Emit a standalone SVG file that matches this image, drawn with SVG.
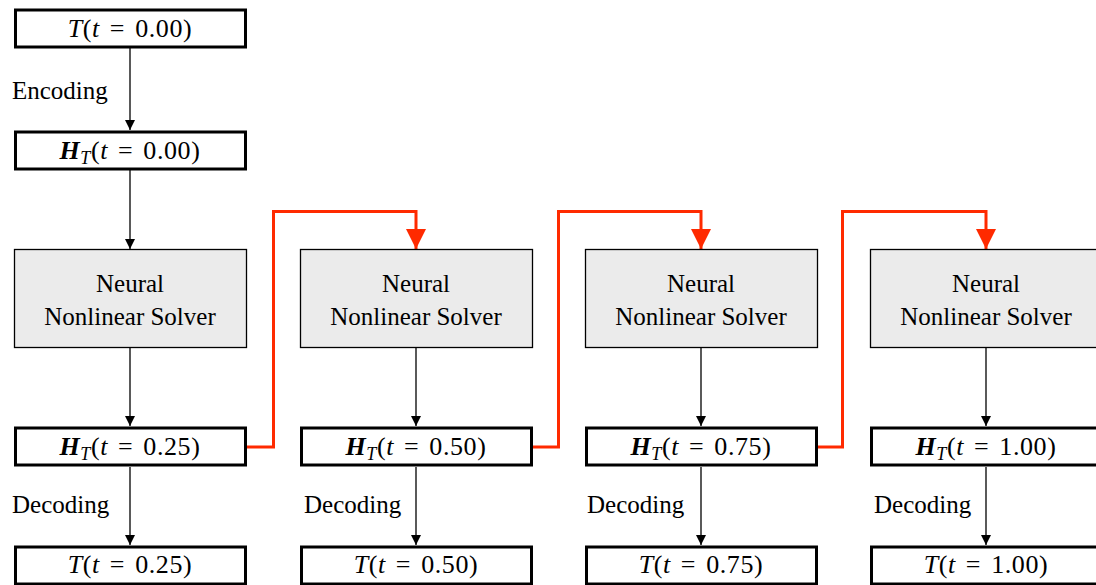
<svg xmlns="http://www.w3.org/2000/svg" width="1096" height="585" viewBox="0 0 1096 585">
<style>
.box{fill:#fff;stroke:#000;stroke-width:3}
.solver{fill:#ebebeb;stroke:#000;stroke-width:1.3}
.t{font-family:"Liberation Serif","Times New Roman",serif;font-size:25px;fill:#000;text-anchor:middle}
.m{font-family:"Liberation Serif","Times New Roman",serif;font-size:26px;fill:#000;text-anchor:middle;letter-spacing:0.6px}
.lbl{font-family:"Liberation Serif","Times New Roman",serif;font-size:25px;fill:#000}
.i{font-style:italic}
.b{font-style:italic;font-weight:bold}
.sub{font-style:italic;font-size:18px}
.a{stroke:#000;stroke-width:1.3;fill:none;marker-end:url(#ah)}
.r{stroke:#ff2a00;stroke-width:3;fill:none;marker-end:url(#rh)}
</style>
<defs>
<marker id="ah" markerUnits="userSpaceOnUse" markerWidth="10" markerHeight="12" refX="10" refY="5" orient="auto" viewBox="0 0 10 10">
<path d="M0,0 L10,5 L0,10 Z" fill="#000"/>
</marker>
<marker id="rh" markerUnits="userSpaceOnUse" markerWidth="20" markerHeight="20" refX="20" refY="10" orient="auto" viewBox="0 0 20 20">
<path d="M0,0 L20,10 L0,20 Z" fill="#ff2a00"/>
</marker>
</defs>
<g id="connectors">
<line class="a" x1="130" y1="48" x2="130" y2="130"/>
<line class="a" x1="130" y1="170" x2="130" y2="249"/>
<line class="a" x1="130" y1="347" x2="130" y2="426"/>
<line class="a" x1="130" y1="467" x2="130" y2="545"/>
<line class="a" x1="416" y1="347" x2="416" y2="426"/>
<line class="a" x1="416" y1="467" x2="416" y2="545"/>
<line class="a" x1="701" y1="347" x2="701" y2="426"/>
<line class="a" x1="701" y1="467" x2="701" y2="545"/>
<line class="a" x1="986" y1="347" x2="986" y2="426"/>
<line class="a" x1="986" y1="467" x2="986" y2="545"/>
<path class="r" d="M247,447 H273.5 V211.5 H416 V249"/>
<path class="r" d="M532,447 H558.5 V211.5 H701 V249"/>
<path class="r" d="M817,447 H842.5 V211.5 H986 V249"/>
<text class="lbl" x="12" y="99">Encoding</text>
<text class="lbl" x="12" y="513">Decoding</text>
<text class="lbl" x="304" y="513">Decoding</text>
<text class="lbl" x="587" y="513">Decoding</text>
<text class="lbl" x="874" y="513">Decoding</text>
</g>
<g id="T0"><rect class="box" x="15.5" y="10" width="230" height="37"/>
<text class="m" x="130" y="37"><tspan class="i">T</tspan>(<tspan class="i">t</tspan><tspan dx="10">=</tspan><tspan dx="10">0.00)</tspan></text></g>
<g id="H0"><rect class="box" x="15.5" y="132" width="230" height="37"/>
<text class="m" x="130" y="159"><tspan class="b">H</tspan><tspan class="sub" dy="5">T</tspan><tspan dy="-5">(</tspan><tspan class="i">t</tspan><tspan dx="10">=</tspan><tspan dx="10">0.00)</tspan></text></g>
<g id="S1"><rect class="solver" x="14.5" y="249.5" width="232" height="98"/>
<text class="t" x="130" y="292">Neural</text><text class="t" x="130" y="325">Nonlinear Solver</text></g>
<g id="H1"><rect class="box" x="15.5" y="428" width="230" height="37"/>
<text class="m" x="130" y="455"><tspan class="b">H</tspan><tspan class="sub" dy="5">T</tspan><tspan dy="-5">(</tspan><tspan class="i">t</tspan><tspan dx="10">=</tspan><tspan dx="10">0.25)</tspan></text></g>
<g id="T1"><rect class="box" x="15.5" y="547" width="230" height="37"/>
<text class="m" x="130" y="573"><tspan class="i">T</tspan>(<tspan class="i">t</tspan><tspan dx="10">=</tspan><tspan dx="10">0.25)</tspan></text></g>
<g id="S2"><rect class="solver" x="300.5" y="249.5" width="232" height="98"/>
<text class="t" x="416" y="292">Neural</text><text class="t" x="416" y="325">Nonlinear Solver</text></g>
<g id="H2"><rect class="box" x="301.5" y="428" width="230" height="37"/>
<text class="m" x="416" y="455"><tspan class="b">H</tspan><tspan class="sub" dy="5">T</tspan><tspan dy="-5">(</tspan><tspan class="i">t</tspan><tspan dx="10">=</tspan><tspan dx="10">0.50)</tspan></text></g>
<g id="T2"><rect class="box" x="301.5" y="547" width="230" height="37"/>
<text class="m" x="416" y="573"><tspan class="i">T</tspan>(<tspan class="i">t</tspan><tspan dx="10">=</tspan><tspan dx="10">0.50)</tspan></text></g>
<g id="S3"><rect class="solver" x="585.5" y="249.5" width="232" height="98"/>
<text class="t" x="701" y="292">Neural</text><text class="t" x="701" y="325">Nonlinear Solver</text></g>
<g id="H3"><rect class="box" x="586.5" y="428" width="230" height="37"/>
<text class="m" x="701" y="455"><tspan class="b">H</tspan><tspan class="sub" dy="5">T</tspan><tspan dy="-5">(</tspan><tspan class="i">t</tspan><tspan dx="10">=</tspan><tspan dx="10">0.75)</tspan></text></g>
<g id="T3"><rect class="box" x="586.5" y="547" width="230" height="37"/>
<text class="m" x="701" y="573"><tspan class="i">T</tspan>(<tspan class="i">t</tspan><tspan dx="10">=</tspan><tspan dx="10">0.75)</tspan></text></g>
<g id="S4"><rect class="solver" x="870.5" y="249.5" width="232" height="98"/>
<text class="t" x="986" y="292">Neural</text><text class="t" x="986" y="325">Nonlinear Solver</text></g>
<g id="H4"><rect class="box" x="871.5" y="428" width="230" height="37"/>
<text class="m" x="986" y="455"><tspan class="b">H</tspan><tspan class="sub" dy="5">T</tspan><tspan dy="-5">(</tspan><tspan class="i">t</tspan><tspan dx="10">=</tspan><tspan dx="10">1.00)</tspan></text></g>
<g id="T4"><rect class="box" x="871.5" y="547" width="230" height="37"/>
<text class="m" x="986" y="573"><tspan class="i">T</tspan>(<tspan class="i">t</tspan><tspan dx="10">=</tspan><tspan dx="10">1.00)</tspan></text></g>
</svg>
